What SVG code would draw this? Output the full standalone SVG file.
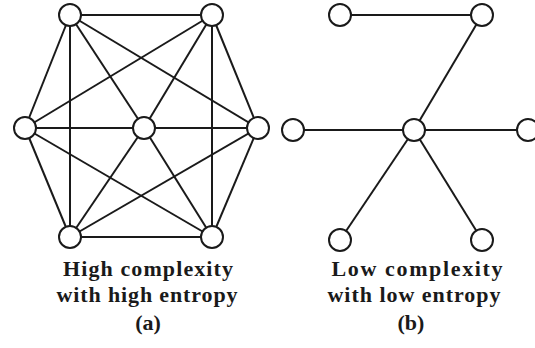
<svg xmlns="http://www.w3.org/2000/svg" width="535" height="348" viewBox="0 0 535 348">
<style>
.e{stroke:#1a1a1a;stroke-width:2;fill:none}
.n{fill:#fff;stroke:#1a1a1a;stroke-width:2}
.t{font-family:"Liberation Serif","Times New Roman",serif;font-weight:bold;font-size:22px;fill:#1a1a1a;text-anchor:middle}
</style>
<rect width="535" height="348" fill="#fff"/>
<g id="connectors">
<line class="e" x1="70" y1="15" x2="212" y2="15"/>
<line class="e" x1="70" y1="15" x2="25" y2="128"/>
<line class="e" x1="70" y1="15" x2="144" y2="128"/>
<line class="e" x1="70" y1="15" x2="70" y2="237"/>
<line class="e" x1="70" y1="15" x2="258" y2="128"/>
<line class="e" x1="212" y1="15" x2="25" y2="128"/>
<line class="e" x1="212" y1="15" x2="144" y2="128"/>
<line class="e" x1="212" y1="15" x2="258" y2="128"/>
<line class="e" x1="212" y1="15" x2="212" y2="237"/>
<line class="e" x1="25" y1="128" x2="258" y2="128"/>
<line class="e" x1="25" y1="128" x2="70" y2="237"/>
<line class="e" x1="25" y1="128" x2="212" y2="237"/>
<line class="e" x1="144" y1="128" x2="70" y2="237"/>
<line class="e" x1="144" y1="128" x2="212" y2="237"/>
<line class="e" x1="258" y1="128" x2="70" y2="237"/>
<line class="e" x1="258" y1="128" x2="212" y2="237"/>
<line class="e" x1="70" y1="237" x2="212" y2="237"/>
<line class="e" x1="340" y1="15" x2="482" y2="15"/>
<line class="e" x1="482" y1="15" x2="414" y2="130"/>
<line class="e" x1="293" y1="130" x2="528" y2="130"/>
<line class="e" x1="414" y1="130" x2="340" y2="240"/>
<line class="e" x1="414" y1="130" x2="482" y2="240"/>
</g>
<g id="a-tl"><circle class="n" cx="70" cy="15" r="11"/></g>
<g id="a-tr"><circle class="n" cx="212" cy="15" r="11"/></g>
<g id="a-l"><circle class="n" cx="25" cy="128" r="11"/></g>
<g id="a-c"><circle class="n" cx="144" cy="128" r="11"/></g>
<g id="a-r"><circle class="n" cx="258" cy="128" r="11"/></g>
<g id="a-bl"><circle class="n" cx="70" cy="237" r="11"/></g>
<g id="a-br"><circle class="n" cx="212" cy="237" r="11"/></g>
<g id="b-tl"><circle class="n" cx="340" cy="15" r="11"/></g>
<g id="b-tr"><circle class="n" cx="482" cy="15" r="11"/></g>
<g id="b-l"><circle class="n" cx="293" cy="130" r="11"/></g>
<g id="b-c"><circle class="n" cx="414" cy="130" r="11"/></g>
<g id="b-r"><circle class="n" cx="528" cy="130" r="11"/></g>
<g id="b-bl"><circle class="n" cx="340" cy="240" r="11"/></g>
<g id="b-br"><circle class="n" cx="482" cy="240" r="11"/></g>
<g id="labels">
<text class="t" x="148" y="276" textLength="170" lengthAdjust="spacing">High  complexity</text>
<text class="t" x="147" y="302" textLength="181" lengthAdjust="spacing">with high entropy</text>
<text class="t" x="148" y="330">(a)</text>
<text class="t" x="417" y="276" textLength="171" lengthAdjust="spacing">Low complexity</text>
<text class="t" x="414" y="302" textLength="173" lengthAdjust="spacing">with low entropy</text>
<text class="t" x="411" y="330">(b)</text>
</g>
</svg>
